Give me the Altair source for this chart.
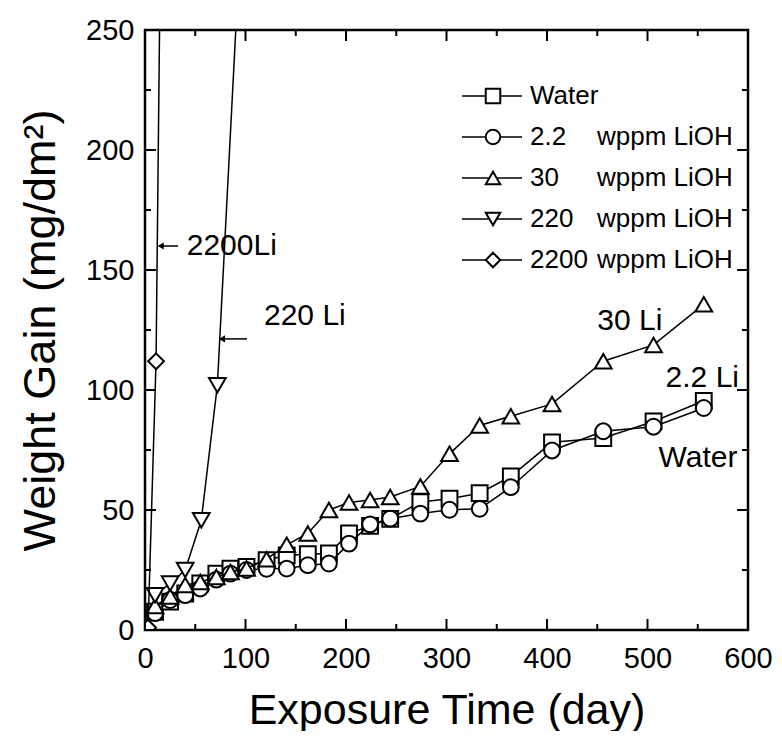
import altair as alt
import pandas as pd

# ---------------- data ----------------
days = [10, 25, 40, 55, 71, 85, 101, 121, 141, 162, 183, 203, 224, 244, 274, 303, 333, 364, 405, 456, 506, 556]
water = [7.6, 11.8, 15.2, 19.4, 23.5, 25.6, 26.3, 29.1, 31.1, 31.6, 31.9, 40.2, 43.4, 46.3, 53.3, 54.7, 57.0, 64.0, 78.2, 80.0, 86.9, 95.5]
li_2_2 = [7.0, 12.5, 14.5, 17.3, 21.0, 23.5, 25.0, 25.5, 25.6, 27.0, 27.7, 36.0, 44.0, 46.4, 48.5, 50.1, 50.5, 59.5, 74.8, 82.8, 84.7, 92.5]
li_30 = [10.0, 14.0, 18.7, 20.0, 22.1, 24.2, 25.6, 29.5, 35.5, 40.2, 50.0, 53.1, 54.2, 55.4, 59.8, 73.4, 85.2, 89.1, 94.2, 112.0, 118.8, 135.7]
days_220 = [10, 25, 40, 56, 72, 100]
li_220 = [14.5, 19.4, 25.0, 45.7, 102.0, 328.0]
days_2200 = [3, 11, 25]
li_2200 = [1.0, 112.0, 670.0]

series_names = ["Water", "2.2", "30", "220", "2200"]
series_shapes = ["square", "circle", "triangle-up", "triangle-down", "diamond"]
legend_num = ["Water", "2.2", "30", "220", "2200"]
legend_unit = ["", "wppm LiOH", "wppm LiOH", "wppm LiOH", "wppm LiOH"]

x_major = [0, 100, 200, 300, 400, 500, 600]
x_minor = [50, 150, 250, 350, 450, 550]
y_major = [0, 50, 100, 150, 200, 250]
y_minor = [25, 75, 125, 175, 225]

ann_text = ["2200Li", "220 Li", "30 Li", "2.2 Li", "Water"]
ann_x = [41.5, 118.4, 450, 518, 511]
ann_y = [160, 130.8, 128.7, 105, 71.8]
arrow_tip_x = [15.6, 76.6]
arrow_tail_x = [33, 101.5]
arrow_y = [160, 121.3]

# ---------------- geometry ----------------
W, H = 603, 600
FONT = "Liberation Sans"

xs = alt.Scale(domain=[0, 600], nice=False, zero=False)
ys = alt.Scale(domain=[0, 250], nice=False, zero=False)

frames = []
for name, dx, vals in [("Water", days, water), ("2.2", days, li_2_2), ("30", days, li_30),
                       ("220", days_220, li_220), ("2200", days_2200, li_2200)]:
    frames.append(pd.DataFrame({"day": dx, "gain": vals, "series": name}))
df = pd.concat(frames, ignore_index=True)

layers = []
for name, shape in zip(series_names, series_shapes):
    sub = df[df.series == name]
    base = alt.Chart(sub)
    line = base.mark_line(color="black", strokeWidth=1.5, clip=True).encode(
        x=alt.X("day:Q", scale=xs,
                axis=alt.Axis(values=x_major, title="Exposure Time (day)", ticks=False, domain=False,
                              grid=False, labelFontSize=29, labelFont=FONT, labelColor="black",
                              labelFlush=False, labelPadding=14, titleFontSize=43, titleFont=FONT,
                              titleFontWeight="normal", titleColor="black", titlePadding=16)),
        y=alt.Y("gain:Q", scale=ys,
                axis=alt.Axis(values=y_major, title="Weight Gain (mg/dm²)", ticks=False, domain=False,
                              grid=False, labelFontSize=29, labelFont=FONT, labelColor="black",
                              labelFlush=False, labelPadding=11, titleFontSize=45, titleFont=FONT,
                              titleFontWeight="normal", titleColor="black", titlePadding=22)),
        order="day:Q",
    )
    pts = base.mark_point(shape=shape, filled=True, fill="white", stroke="black", strokeWidth=2,
                          size=280 if "triangle" in shape else 250, opacity=1, clip=True).encode(
        x=alt.X("day:Q", scale=xs), y=alt.Y("gain:Q", scale=ys))
    layers += [line, pts]

# inner ticks on all four sides
xmaj = pd.DataFrame({"v": x_major})
xmin = pd.DataFrame({"v": x_minor})
ymaj = pd.DataFrame({"v": y_major})
ymin = pd.DataFrame({"v": y_minor})
tk = dict(color="black", strokeWidth=2)
for d, L in [(xmaj, 11), (xmin, 6)]:
    layers.append(alt.Chart(d).mark_rule(**tk).encode(x=alt.X("v:Q", scale=xs), y=alt.value(H), y2=alt.value(H - L)))
    layers.append(alt.Chart(d).mark_rule(**tk).encode(x=alt.X("v:Q", scale=xs), y=alt.value(0), y2=alt.value(L)))
for d, L in [(ymaj, 11), (ymin, 6)]:
    layers.append(alt.Chart(d).mark_rule(**tk).encode(y=alt.Y("v:Q", scale=ys), x=alt.value(0), x2=alt.value(L)))
    layers.append(alt.Chart(d).mark_rule(**tk).encode(y=alt.Y("v:Q", scale=ys), x=alt.value(W), x2=alt.value(W - L)))

# annotations
ann = pd.DataFrame({"t": ann_text, "x": ann_x, "y": ann_y})
layers.append(alt.Chart(ann).mark_text(align="left", baseline="middle", fontSize=30, font=FONT, color="black").encode(
    x=alt.X("x:Q", scale=xs), y=alt.Y("y:Q", scale=ys), text="t:N"))
arr = pd.DataFrame({"x1": arrow_tip_x, "x2": arrow_tail_x, "y": arrow_y})
layers.append(alt.Chart(arr).mark_rule(color="black", strokeWidth=1.5).encode(
    x=alt.X("x1:Q", scale=xs), x2="x2:Q", y=alt.Y("y:Q", scale=ys)))
layers.append(alt.Chart(arr).mark_point(shape="triangle-left", filled=True, color="black", size=50, opacity=1).encode(
    x=alt.X("x1:Q", scale=xs), y=alt.Y("y:Q", scale=ys)))

# legend (custom)
row_y = [66, 107, 148, 189, 230]
leg = pd.DataFrame({"num": legend_num, "unit": legend_unit, "shape": series_shapes, "row": row_y})
for i in range(5):
    r = leg.iloc[[i]]
    yv = alt.value(int(row_y[i]))
    layers.append(alt.Chart(r).mark_rule(color="black", strokeWidth=1.5).encode(
        x=alt.value(317), x2=alt.value(377), y=yv))
    layers.append(alt.Chart(r).mark_point(shape=series_shapes[i], filled=True, fill="white", stroke="black",
                                          strokeWidth=2, size=210, opacity=1).encode(x=alt.value(348), y=yv))
    layers.append(alt.Chart(r).mark_text(align="left", baseline="middle", fontSize=26, font=FONT, color="black").encode(
        x=alt.value(385), y=yv, text="num:N"))
    layers.append(alt.Chart(r).mark_text(align="left", baseline="middle", fontSize=26, font=FONT, color="black").encode(
        x=alt.value(452), y=yv, text="unit:N"))

chart = alt.layer(*layers).properties(
    width=W, height=H,
    autosize=alt.AutoSizeParams(type="none"),
    padding={"left": 137, "top": 22, "right": 26, "bottom": 101},
    background="white",
).configure_view(stroke="black", strokeWidth=2.5)

chart.save("out.html", embed_options={"renderer": "svg", "actions": False})
